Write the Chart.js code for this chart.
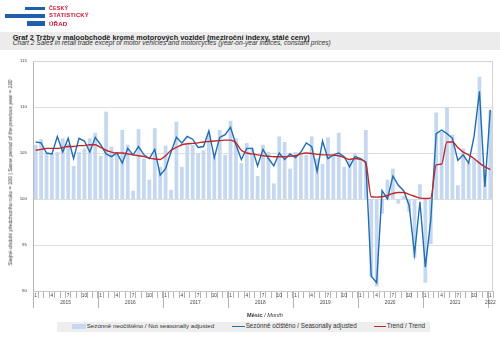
<!DOCTYPE html>
<html><head><meta charset="utf-8">
<script src="https://cdn.jsdelivr.net/npm/chart.js@4"></script>
<style>
html,body{margin:0;padding:0;background:#fff;width:500px;height:345px;overflow:hidden;font-family:"Liberation Sans",Arial,sans-serif;}
#wrap{position:relative;width:500px;height:345px;}
#c{position:absolute;left:0;top:0;}
.abs{position:absolute;white-space:nowrap;line-height:1;}
.logo{color:#c8102e;font-weight:bold;font-size:6px;letter-spacing:0.2px;}
.bar{position:absolute;background:#1f5fae;}
</style></head><body>
<div id="wrap">
  <canvas id="c" width="500" height="345"></canvas>
  <div class="bar" style="left:25px;top:6.5px;width:20px;height:3.8px"></div>
  <div class="bar" style="left:5px;top:13.5px;width:40px;height:4px"></div>
  <div class="bar" style="left:27px;top:21px;width:18px;height:4.5px"></div>
  <div class="abs logo" id="l1" style="left:49px;top:5.6px">ČESKÝ</div>
  <div class="abs logo" id="l2" style="left:49px;top:13.2px">STATISTICKÝ</div>
  <div class="abs logo" id="l3" style="left:49px;top:20.9px">ÚŘAD</div>
  <div class="abs" style="left:0;top:31.7px;width:500px;height:18.5px;background:#ececec"></div>
  <div class="abs" id="t1" style="left:12.7px;top:35px;font-size:6px;font-weight:bold;color:#222">Graf 2 Tržby v maloobchodě kromě motorových vozidel (meziroční indexy, stálé ceny)</div>
  <div class="abs" id="t2" style="left:12.7px;top:41px;font-size:5.5px;font-style:italic;color:#333">Chart 2 Sales in retail trade except of motor vehicles and motorcycles (year-on-year indices, constant prices)</div>
  <div class="abs" id="yt" style="left:6px;top:173px;font-size:4.5px;color:#333">Stejné období předchozího roku = 100 | <i>Same period of the previous year = 100</i></div>
  <div class="abs" id="xt" style="left:247px;top:313px;font-size:5px;color:#333"><b>Měsíc</b> / <i>Month</i></div>
  <div class="abs" style="left:57px;top:321.5px;width:373px;height:10.5px;background:#eeeeee"></div>
  <div class="abs" style="left:72px;top:324px;width:14px;height:4.5px;background:#c6d8ef"></div>
  <div class="abs" id="g1" style="left:86.7px;top:323.6px;font-size:5.5px;color:#333">Sezónně neočištěno / Not seasonally adjusted</div>
  <div class="abs" style="left:232px;top:325.6px;width:13px;height:1.4px;background:#1f6db3"></div>
  <div class="abs" id="g2" style="left:245.7px;top:323.6px;font-size:5.5px;color:#333">Sezónně očištěno / Seasonally adjusted</div>
  <div class="abs" style="left:374px;top:325.6px;width:11.5px;height:1.4px;background:#c0272d"></div>
  <div class="abs" id="g3" style="left:386.7px;top:323.6px;font-size:5.5px;color:#333">Trend / Trend</div>
</div>
<script>
// ---- data ----
const years = ['2015','2016','2017','2018','2019','2020','2021','2022'];
const monthsPerYear = [12,12,12,12,12,12,12,1];
const monthNames = ['1','2','3','4','5','6','7','8','9','10','11','12'];
const shownMonths = ['1','4','7','10'];
const yTicks = [90,95,100,105,110,115];

const notSeasonallyAdjusted = [
105.9,106.5,105.0,104.9,105.1,106.6,106.0,103.6,105.1,105.5,106.6,107.2,
104.7,109.5,105.7,105.1,107.5,105.9,100.9,107.6,104.4,102.1,107.7,103.5,
105.8,101.0,108.4,103.5,105.9,105.9,105.0,105.3,107.0,104.6,107.5,104.8,
108.5,106.6,103.9,106.1,105.6,102.5,105.9,105.1,101.7,106.8,106.2,103.3,
105.1,104.8,104.8,106.8,104.4,103.8,106.7,104.8,107.2,103.5,104.2,105.0,
104.5,107.5,91.6,90.5,98.4,102.1,103.3,99.5,100.3,98.6,93.6,101.6,
90.9,95.1,109.4,107.3,110.0,107.0,101.5,105.5,103.9,104.4,113.3,103.2,
109.6];

const seasonallyAdjusted = [
106.2,106.1,105.0,104.9,106.8,105.1,106.6,104.4,106.6,106.3,105.1,106.7,
105.9,104.9,104.6,105.0,103.9,105.5,104.8,105.7,104.8,104.4,105.4,102.6,
103.3,105.1,106.7,106.1,106.8,106.5,105.6,105.7,107.4,104.5,106.7,107.0,
107.8,105.9,104.3,105.5,105.5,103.6,105.4,104.4,103.6,105.0,104.3,104.9,
104.5,105.1,106.1,105.7,103.0,106.3,104.4,104.8,105.0,104.6,103.5,104.6,
104.4,104.0,91.6,90.9,100.9,100.0,102.5,101.5,100.9,99.3,94.0,99.7,
92.6,97.7,107.1,107.5,107.1,106.6,104.2,104.8,103.9,106.8,111.7,101.3,
109.7];

const trend = [
105.3,105.4,105.5,105.5,105.5,105.6,105.7,105.7,105.8,105.8,105.9,105.9,
105.6,105.3,105.1,105.0,105.0,104.9,104.8,104.7,104.6,104.45,104.35,104.3,
104.7,105.3,105.6,105.9,106.0,106.05,106.1,106.2,106.25,106.3,106.35,106.4,
106.4,106.1,105.3,105.0,104.9,104.8,104.7,104.65,104.6,104.6,104.6,104.65,
104.7,104.9,105.0,104.95,104.85,104.8,104.8,104.75,104.7,104.5,104.3,104.4,
104.3,103.9,100.25,100.2,100.25,100.4,100.6,100.7,100.7,100.5,100.3,100.1,
100.05,100.1,103.7,103.8,106.2,106.2,105.6,105.1,104.8,104.4,103.9,103.5,
103.2];

// ---- categories ----
const categories = [];
years.forEach((y,k)=>{ for(let m=0;m<monthsPerYear[k];m++) categories.push(monthNames[m]); });

// ---- fit html texts to measured widths, place by baseline ----
function fit(id, target, baseline){
  const el=document.getElementById(id);
  const fs=parseFloat(getComputedStyle(el).fontSize);
  const w=el.getBoundingClientRect().width;
  const nfs=fs*target/w;
  el.style.fontSize=nfs+'px';
  if(baseline!==undefined) el.style.top=(baseline-0.8465*nfs)+'px';
}
fit('t1',298,39.8); fit('t2',319,45.8); fit('yt',186); fit('xt',36,317.3);
fit('g1',128,328.3); fit('g2',111.5,328.3); fit('g3',38.5,328.3);
fit('l1',19,10.8); fit('l2',40,18.4); fit('l3',18.5,26);
(function(){
  const el=document.getElementById('yt');
  const r=el.getBoundingClientRect();
  el.style.left=(10.3-r.width/2)+'px';
  el.style.top=(173-r.height/2)+'px';
  el.style.transform='rotate(-90deg)';
})();

const FONT='"Liberation Sans", Arial, sans-serif';

const yearAxisPlugin = {
  id:'yearAxis',
  afterDraw(chart){
    const xs=chart.scales.x, ca=chart.chartArea, ctx=chart.ctx;
    const step=xs.getPixelForValue(1)-xs.getPixelForValue(0);
    ctx.save();
    ctx.strokeStyle='#d4d4d4'; ctx.lineWidth=1;
    ctx.beginPath();
    ctx.moveTo(ca.left, Math.round(ca.top)+0.5); ctx.lineTo(ca.right, Math.round(ca.top)+0.5);
    ctx.moveTo(Math.round(ca.right)-0.5, ca.top); ctx.lineTo(Math.round(ca.right)-0.5, ca.bottom);
    ctx.stroke();
    ctx.strokeStyle='#b4b4b4';
    ctx.fillStyle='#444';
    ctx.font='4.8px '+FONT;
    ctx.textAlign='center'; ctx.textBaseline='middle';
    let start=0;
    years.forEach((y,k)=>{
      const n=monthsPerYear[k];
      const x0=xs.getPixelForValue(start)-step/2;
      const x1=xs.getPixelForValue(start+n-1)+step/2;
      ctx.beginPath();
      ctx.moveTo(Math.round(x0)+0.5, ca.bottom); ctx.lineTo(Math.round(x0)+0.5, ca.bottom+17);
      ctx.stroke();
      ctx.fillText(y,(x0+x1)/2, ca.bottom+11.5);
      start+=n;
    });
    ctx.restore();
  }
};

new Chart(document.getElementById('c'),{
  type:'bar',
  data:{
    labels:categories,
    datasets:[
      {type:'line',label:'Trend / Trend',data:trend,borderColor:'#c0272d',borderWidth:1.4,pointRadius:0,cubicInterpolationMode:'monotone',order:1},
      {type:'line',label:'Sezónně očištěno / Seasonally adjusted',data:seasonallyAdjusted,borderColor:'#1f6db3',borderWidth:1.4,pointRadius:0,tension:0,order:2},
      {type:'bar',label:'Sezónně neočištěno / Not seasonally adjusted',data:notSeasonallyAdjusted.map(v=>[100,v]),backgroundColor:'#c6d8ef',borderWidth:0,barPercentage:0.7,categoryPercentage:1,order:3}
    ]
  },
  options:{
    responsive:false, animation:false, events:[],
    layout:{padding:{left:0,right:7,top:61,bottom:34}},
    plugins:{legend:{display:false},tooltip:{enabled:false},title:{display:false}},
    scales:{
      x:{
        type:'category', offset:true,
        afterFit(s){ s.height=20; },
        grid:{display:true,drawOnChartArea:false,drawTicks:true,tickLength:7,color:'#b4b4b4',offset:true},
        border:{display:true,color:'#c8c8c8'},
        ticks:{autoSkip:false,maxRotation:0,minRotation:0,padding:-5,color:'#444',font:{family:FONT,size:4.8},
          callback(v,i){ const l=categories[i]; return shownMonths.includes(l)?l:''; }}
      },
      y:{
        min:90,max:115,
        afterFit(s){ s.width=33; },
        afterBuildTicks(s){ s.ticks=yTicks.map(v=>({value:v})); },
        grid:{color:'#dedede',drawTicks:false,lineWidth:1},
        border:{display:true,color:'#b4b4b4'},
        ticks:{padding:6,color:'#444',font:{family:FONT,size:4.4}}
      }
    }
  },
  plugins:[yearAxisPlugin]
});
</script>
</body></html>
